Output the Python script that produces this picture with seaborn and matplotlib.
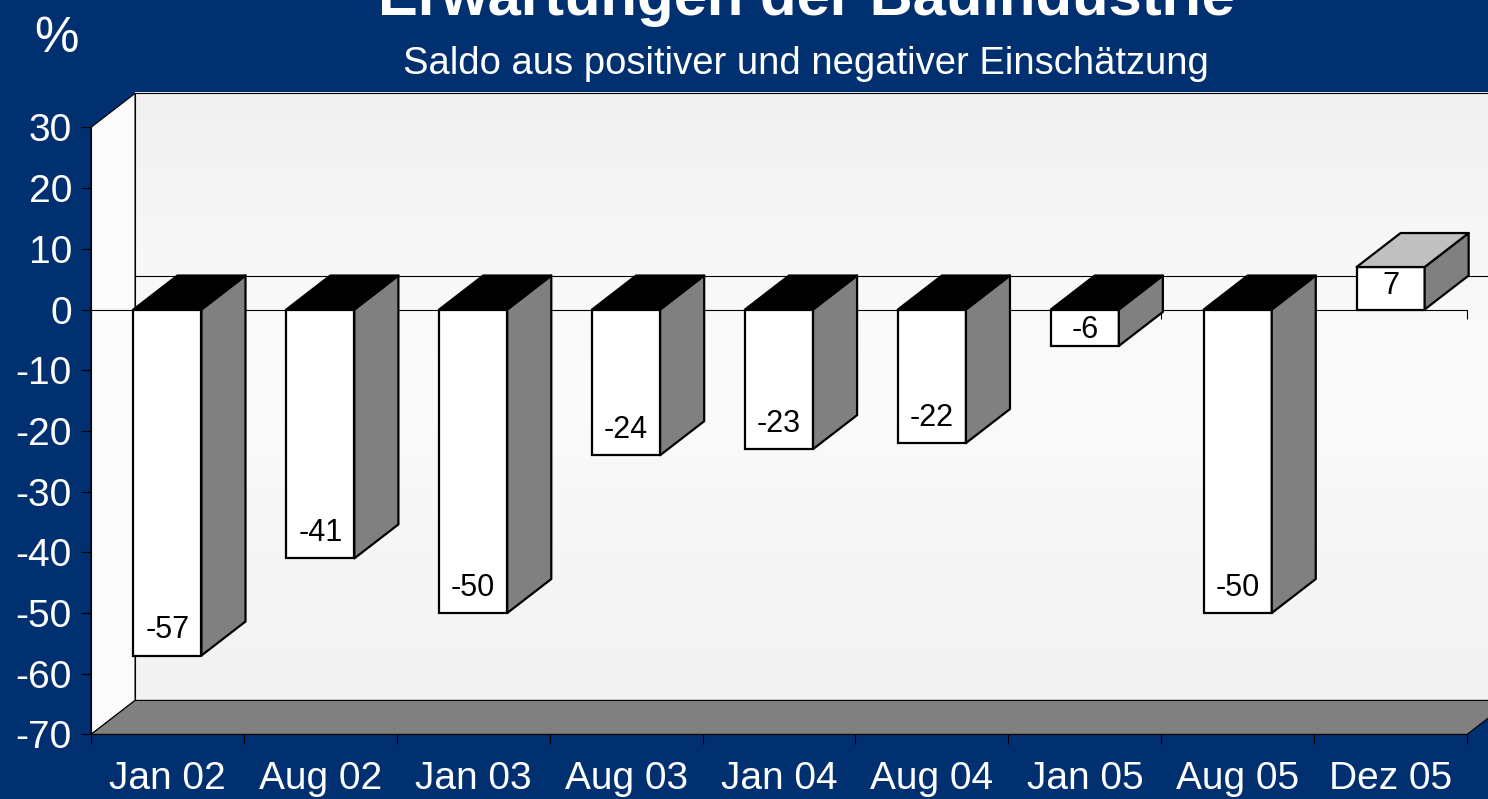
# Erwartungen der Bauindustrie - 3D-style column chart (Excel look)

import numpy as np
import matplotlib
matplotlib.use("Agg")
import matplotlib.pyplot as plt
import seaborn as sns
from matplotlib.patches import Polygon
from matplotlib.colors import LinearSegmentedColormap

# -------------------------------
# DATA
# -------------------------------
categories = ["Jan 02", "Aug 02", "Jan 03", "Aug 03", "Jan 04",
              "Aug 04", "Jan 05", "Aug 05", "Dez 05"]
saldo = [-57, -41, -50, -24, -23, -22, -6, -50, 7]
y_ticks = list(range(-70, 31, 10))

title = "Erwartungen der Bauindustrie"
subtitle = "Saldo aus positiver und negativer Einschätzung"
unit_label = "%"

# -------------------------------
# STYLE
# -------------------------------
BG = "#003070"
SIDE = "#808080"
TOP_POS = "#c0c0c0"
DX, DY = 0.288, 5.6       # depth offset of the 3D effect (data units)
BAR_W = 0.445

sns.set_style("white")
plt.rcParams["font.family"] = ["Liberation Sans", "DejaVu Sans"]

fig = plt.figure(figsize=(14.88, 7.99), dpi=100, facecolor=BG)
ax = fig.add_axes([0, 0, 1, 1])
ax.set_facecolor("none")

ymin, ymax = y_ticks[0], y_ticks[-1]
x0, x1 = -0.5, len(categories) - 0.5

# -------------------------------
# WALLS + FLOOR
# -------------------------------
wall_cmap = LinearSegmentedColormap.from_list(
    "wall", ["#f1f1f1", "#f7f7f7", "#fbfbfb", "#f6f6f6", "#f3f3f3"])
grad = np.linspace(0, 1, 256).reshape(-1, 1)
ax.imshow(grad, extent=[x0 + DX, x1 + DX, ymin + DY, ymax + DY],
          origin="upper", cmap=wall_cmap, aspect="auto", zorder=0.5)
ax.add_patch(Polygon([(x0 + DX, ymin + DY), (x0 + DX, ymax + DY),
                      (x1 + DX, ymax + DY), (x1 + DX, ymin + DY)],
                     closed=True, fc="none", ec="black", lw=0.8, zorder=1))
ax.add_patch(Polygon([(x0, ymin), (x0, ymax), (x0 + DX, ymax + DY),
                      (x0 + DX, ymin + DY)],
                     closed=True, fc="#fbfbfb", ec="black", lw=0.8, zorder=1))
ax.add_patch(Polygon([(x0, ymin), (x1, ymin), (x1 + DX, ymin + DY),
                      (x0 + DX, ymin + DY)],
                     closed=True, fc=SIDE, ec="black", lw=0.8, zorder=1.5))

# zero lines (back wall and front)
ax.plot([x0 + DX, x1 + DX], [DY, DY], color="black", lw=0.8, zorder=1.2)
ax.plot([x0, x1], [0, 0], color="black", lw=0.8, zorder=2)
ax.vlines(np.arange(len(categories) + 1) - 0.5, -1.5, 0,
          color="black", lw=0.8, zorder=2)

# -------------------------------
# BARS (front faces via seaborn)
# -------------------------------
sns.barplot(x=categories, y=saldo, order=categories, width=BAR_W,
            color="white", saturation=1, edgecolor="black", linewidth=1.6,
            errorbar=None, ax=ax, zorder=3)

for i, v in enumerate(saldo):
    l, r = i - BAR_W / 2, i + BAR_W / 2
    top, bot = max(v, 0), min(v, 0)
    side = [(r, bot), (r, top), (r + DX, top + DY), (r + DX, bot + DY)]
    cap = [(l, top), (r, top), (r + DX, top + DY), (l + DX, top + DY)]
    ax.add_patch(Polygon(side, closed=True, fc=SIDE, ec="black",
                         lw=1.6, joinstyle="round", zorder=3))
    ax.add_patch(Polygon(cap, closed=True,
                         fc="black" if v < 0 else TOP_POS, ec="black",
                         lw=1.6, joinstyle="round", zorder=3))
    off = min(4.2, 0.45 * abs(v))
    ax.text(i, v - np.sign(v) * off, f"{v}", ha="center", va="center",
            fontsize=22, color="black", zorder=5)

# -------------------------------
# AXES
# -------------------------------
for s in ["top", "right"]:
    ax.spines[s].set_visible(False)
ax.spines["left"].set_position(("data", x0))
ax.spines["left"].set_bounds(ymin, ymax)
ax.spines["bottom"].set_position(("data", ymin))
ax.spines["bottom"].set_bounds(x0, x1)
for s in ["left", "bottom"]:
    ax.spines[s].set_color("black")
    ax.spines[s].set_linewidth(0.8)
    ax.spines[s].set_zorder(2)

ax.set_yticks(y_ticks)
ax.set_yticklabels([str(t) for t in y_ticks])
ax.set_xticks(range(len(categories)))
ax.set_xticklabels(categories)
ax.set_xticks(np.arange(len(categories) + 1) - 0.5, minor=True)

ax.tick_params(axis="y", which="major", left=True, direction="out",
               length=7.2, width=0.8, color="black", pad=6.5,
               labelsize=28, labelcolor="white")
ax.tick_params(axis="x", which="major", bottom=True, length=0, pad=19,
               labelsize=28, labelcolor="white")
ax.tick_params(axis="x", which="minor", bottom=True, direction="out",
               length=7.2, width=0.8, color="black")
ax.set_xlabel("")
ax.set_ylabel("")

ax.set_xlim(-1.0952, 8.637)
ax.set_ylim(-80.64, 50.99)

# -------------------------------
# TITLES
# -------------------------------
fig.text(806 / 1488, 1 - 15 / 799, title, ha="center", va="baseline",
         fontsize=43, fontweight="bold", color="white")
fig.text(806 / 1488, 1 - 74 / 799, subtitle, ha="center", va="baseline",
         fontsize=27.5, color="white")
fig.text(56 / 1488, 1 - 52 / 799, unit_label, ha="center", va="baseline",
         fontsize=36, color="white")

plt.savefig("out.png", dpi=100, facecolor=BG)
